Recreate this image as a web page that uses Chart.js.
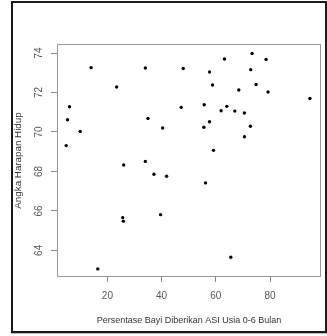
<!DOCTYPE html>
<html>
<head>
<meta charset="utf-8">
<script src="https://cdn.jsdelivr.net/npm/chart.js@4.4.1/dist/chart.umd.min.js"></script>
<style>
  html, body { margin: 0; padding: 0; background: #fff; }
  #wrap { position: relative; width: 327px; height: 336px; }
  #plot { display: block; }
  #frame {
    position: absolute; left: 11px; top: 1px; width: 312px; height: 328px;
    border: 2px solid #1a1a1a; box-shadow: 0 1px 0 #bbb; pointer-events: none;
  }
</style>
</head>
<body>
<div id="wrap">
  <canvas id="plot" width="327" height="336"></canvas>
  <div id="frame"></div>
</div>
<script>
// data
const asiPercent = [
  13.99, 23.4, 6.01, 5.28, 9.94, 4.79, 33.99, 47.98, 34.97, 40.37,
  26.0, 33.99, 37.18, 41.84, 25.64, 25.89, 39.63, 16.44, 47.24,
  63.19, 57.67, 58.77, 55.71, 57.67, 55.58, 59.14, 56.2, 61.96, 64.05,
  67.0, 70.55, 68.47, 72.88, 73.37, 74.85, 78.53, 79.26, 94.72, 72.76,
  70.55, 65.52
];
const lifeExpectancy = [
  73.26, 72.28, 71.28, 70.62, 70.03, 69.31, 73.24, 73.22, 70.69, 70.20,
  68.33, 68.51, 67.86, 67.76, 65.66, 65.48, 65.81, 63.06, 71.25,
  73.70, 73.04, 72.38, 71.38, 70.52, 70.24, 69.07, 67.42, 71.08, 71.30,
  71.06, 70.96, 72.13, 73.16, 73.98, 72.41, 73.68, 72.03, 71.70, 70.29,
  69.76, 63.65
];
const xTicks = [20, 40, 60, 80];
const yTicks = [64, 66, 68, 70, 72, 74];

const points = asiPercent.map((x, i) => ({ x: x, y: lifeExpectancy[i] }));

// grey box around the plotting region, like base R plot()
const boxPlugin = {
  id: 'plotBox',
  afterDraw(chart) {
    const a = chart.chartArea;
    const ctx = chart.ctx;
    ctx.save();
    ctx.strokeStyle = '#999';
    ctx.lineWidth = 1;
    ctx.strokeRect(Math.round(a.left) + 0.5, Math.round(a.top) + 0.5,
      Math.round(a.right - a.left) - 1, Math.round(a.bottom - a.top) - 1);
    ctx.restore();
  }
};

const tickFont = { family: 'Liberation Sans, Arial, sans-serif', size: 10 };
const titleFont = { family: 'Liberation Sans, Arial, sans-serif', size: 9 };

new Chart(document.getElementById('plot'), {
  type: 'scatter',
  data: {
    datasets: [{
      data: points,
      backgroundColor: '#000',
      borderColor: '#000',
      pointRadius: 1.7,
      pointBorderWidth: 0
    }]
  },
  options: {
    responsive: false,
    animation: false,
    events: [],
    layout: { padding: { top: 44, right: 6, left: 0, bottom: 0 } },
    plugins: { legend: { display: false }, tooltip: { enabled: false } },
    scales: {
      x: {
        type: 'linear',
        min: 1.4,
        max: 98.8,
        afterBuildTicks: s => { s.ticks = xTicks.map(v => ({ value: v })); },
        afterFit: s => { s.height = 59; },
        grid: { drawOnChartArea: false, drawTicks: true, tickLength: 5, color: '#888' },
        border: { display: false },
        ticks: { font: tickFont, color: '#555', padding: 8, maxRotation: 0, autoSkip: false },
        title: {
          display: true,
          text: 'Persentase Bayi Diberikan ASI Usia 0-6 Bulan',
          font: titleFont,
          color: '#333',
          padding: { top: 0, bottom: 10 }
        }
      },
      y: {
        type: 'linear',
        min: 62.65,
        max: 74.46,
        afterBuildTicks: s => { s.ticks = yTicks.map(v => ({ value: v })); },
        afterFit: s => { s.width = 57; },
        grid: { drawOnChartArea: false, drawTicks: true, tickLength: 6, color: '#888' },
        border: { display: false },
        ticks: {
          font: tickFont, color: '#555', padding: 6,
          minRotation: 90, maxRotation: 90, crossAlign: 'center', autoSkip: false
        },
        title: {
          display: true,
          text: 'Angka Harapan Hidup',
          font: { family: 'Liberation Sans, Arial, sans-serif', size: 9.8 },
          color: '#333',
          padding: { top: 12, bottom: 0 }
        }
      }
    }
  },
  plugins: [boxPlugin]
});
</script>
</body>
</html>
